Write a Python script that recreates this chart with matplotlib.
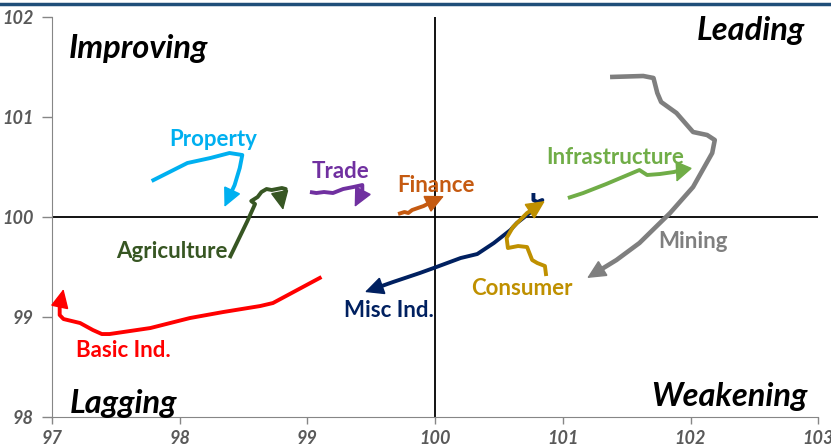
import matplotlib
matplotlib.use('Agg')
import matplotlib.pyplot as plt
from matplotlib.lines import Line2D
import numpy as np

plt.rcParams['font.family'] = ['Lato', 'DejaVu Sans']

# trails (RS-Ratio on x, RS-Momentum on y), last point is the arrow tip
basic_x = [99.11, 98.73, 98.63, 98.34, 98.08, 97.77, 97.45, 97.39, 97.32, 97.22, 97.09, 97.06, 97.06, 97.09]
basic_y = [99.40, 99.14, 99.11, 99.05, 98.99, 98.89, 98.83, 98.83, 98.87, 98.94, 98.98, 99.02, 99.10, 99.28]

property_x = [97.78, 97.92, 98.06, 98.24, 98.39, 98.49, 98.47, 98.43, 98.35]
property_y = [100.36, 100.45, 100.54, 100.59, 100.64, 100.62, 100.49, 100.32, 100.10]

agri_x = [98.39, 98.53, 98.59, 98.56, 98.61, 98.64, 98.68, 98.72, 98.80, 98.83, 98.82, 98.79, 98.81]
agri_y = [99.59, 99.96, 100.13, 100.16, 100.20, 100.25, 100.28, 100.27, 100.29, 100.28, 100.22, 100.20, 100.07]

trade_x = [99.02, 99.07, 99.13, 99.20, 99.28, 99.36, 99.43, 99.43, 99.41, 99.37]
trade_y = [100.25, 100.24, 100.25, 100.24, 100.28, 100.30, 100.32, 100.27, 100.20, 100.10]

finance_x = [99.71, 99.76, 99.79, 99.82, 99.91, 99.97, 100.07]
finance_y = [100.03, 100.05, 100.04, 100.07, 100.11, 100.15, 100.21]

misc_x = [100.77, 100.77, 100.80, 100.84, 100.74, 100.64, 100.59, 100.46, 100.33, 100.20, 100.01, 99.88, 99.67, 99.45]
misc_y = [100.24, 100.17, 100.15, 100.17, 100.04, 99.94, 99.87, 99.74, 99.63, 99.59, 99.50, 99.44, 99.35, 99.25]

consumer_x = [100.87, 100.86, 100.80, 100.76, 100.72, 100.65, 100.57, 100.56, 100.61, 100.72, 100.86]
consumer_y = [99.41, 99.51, 99.54, 99.57, 99.70, 99.71, 99.69, 99.79, 99.90, 100.04, 100.16]

infra_x = [101.04, 101.16, 101.34, 101.60, 101.66, 101.76, 101.87, 101.93, 101.89]
infra_y = [100.19, 100.24, 100.33, 100.47, 100.42, 100.43, 100.45, 100.47, 100.35]

mining_x = [101.37, 101.63, 101.71, 101.74, 101.77, 101.89, 102.02, 102.13, 102.19, 102.17, 102.02, 101.84, 101.60, 101.42, 101.19]
mining_y = [101.40, 101.41, 101.39, 101.24, 101.15, 101.04, 100.85, 100.82, 100.77, 100.64, 100.30, 100.04, 99.74, 99.57, 99.39]

# label text, label position, colour
sectors = [
  ('Basic Ind.', basic_x, basic_y, (97.56, 98.67), '#FF0000'),
  ('Property', property_x, property_y, (98.26, 100.78), '#00B0F0'),
  ('Agriculture', agri_x, agri_y, (97.94, 99.66), '#375623'),
  ('Trade', trade_x, trade_y, (99.26, 100.46), '#7030A0'),
  ('Finance', finance_x, finance_y, (100.01, 100.32), '#C55A11'),
  ('Misc Ind.', misc_x, misc_y, (99.64, 99.07), '#002060'),
  ('Consumer', consumer_x, consumer_y, (100.68, 99.29), '#BF9000'),
  ('Infrastructure', infra_x, infra_y, (101.41, 100.60), '#70AD47'),
  ('Mining', mining_x, mining_y, (102.02, 99.76), '#7F7F7F'),
]

fig = plt.figure(figsize=(8.31, 4.47), dpi=100)
ax = fig.add_axes([0.0626, 0.067, 0.922, 0.895])

ax.set_xlim(97, 103)
ax.set_ylim(98, 102)
ax.axhline(100, color='black', lw=1.3, zorder=1)
ax.axvline(100, color='black', lw=1.3, zorder=1)

HEAD = 17  # arrow head length in pixels

for name, xs, ys, (lx, ly), col in sectors:
  lw = 3.3 if name == 'Mining' else 2.8
  # where the head starts: fixed pixel distance back along the last segment
  tip = ax.transData.transform((xs[-1], ys[-1]))
  prev = ax.transData.transform((xs[-2], ys[-2]))
  d = (tip - prev) / np.hypot(*(tip - prev))
  base = ax.transData.inverted().transform(tip - d * HEAD)
  ax.plot(list(xs[:-1]) + [base[0]], list(ys[:-1]) + [base[1]], color=col, lw=lw,
          solid_capstyle='butt', solid_joinstyle='round', zorder=3)
  ax.annotate('', xy=(xs[-1], ys[-1]), xytext=tuple(base),
    arrowprops=dict(arrowstyle='-|>,head_length=1.2,head_width=0.58', color=col, lw=1,
                    mutation_scale=10, shrinkA=0, shrinkB=0, joinstyle='miter'), zorder=3)
  ax.text(lx, ly, name, color=col, fontsize=16, fontweight='bold', ha='center', va='center', zorder=4)

quad = dict(fontsize=23.5, fontweight='bold', fontstyle='italic', color='black', va='center')
ax.text(97.13, 101.68, 'Improving', ha='left', **quad)
ax.text(102.90, 101.86, 'Leading', ha='right', **quad)
ax.text(97.14, 98.14, 'Lagging', ha='left', **quad)
ax.text(102.92, 98.21, 'Weakening', ha='right', **quad)

ax.set_xticks(range(97, 104))
ax.set_yticks(range(98, 103))
for lab in ax.get_xticklabels() + ax.get_yticklabels():
  lab.set_fontstyle('italic')
  lab.set_fontweight('bold')
ax.tick_params(axis='both', colors='#868686', labelcolor='#595959', labelsize=13, width=1, direction='out')
ax.tick_params(axis='x', length=5, pad=4)
ax.tick_params(axis='y', length=7, pad=6)
ax.spines['top'].set_visible(False)
ax.spines['right'].set_visible(False)
ax.spines['left'].set_color('#868686')
ax.spines['bottom'].set_color('#868686')

# header rule above the chart
fig.add_artist(Line2D([0, 1], [0.99, 0.99], transform=fig.transFigure, color='#1F4E79', lw=2.5))

fig.savefig('out.png', dpi=100)
